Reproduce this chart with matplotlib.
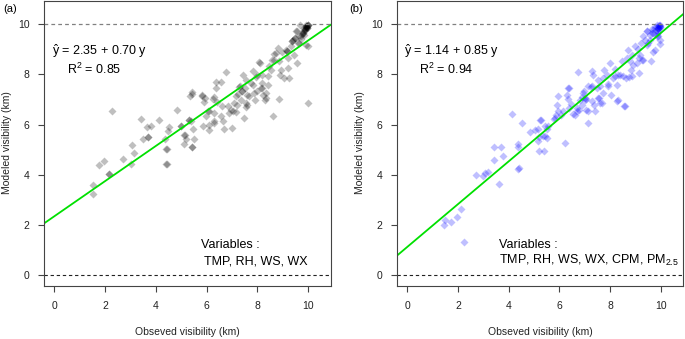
import matplotlib
matplotlib.use("Agg")
import matplotlib.pyplot as plt
import numpy as np

plt.rcParams['font.family'] = ['Liberation Sans', 'DejaVu Sans']
plt.rcParams['mathtext.fontset'] = 'custom'
plt.rcParams['mathtext.rm'] = 'Liberation Sans'
plt.rcParams['mathtext.it'] = 'Liberation Sans:italic'

# Panel (a): observed vs modeled visibility (km)
obs_a = [2.27, 1.75, 1.96, 2.72, 3.06, 3.15, 3.41, 3.64, 3.81, 3.68, 4.13, 4.43, 4.43, 4.50, 4.83,
         5.00, 5.15, 5.19, 5.41, 5.34, 5.43, 5.31, 5.45, 5.51, 5.87, 5.81, 5.93, 5.97, 6.10, 6.10,
         6.10, 6.24, 6.30, 6.30, 6.39, 6.43, 6.56, 6.59, 6.76, 6.83, 6.96, 7.02, 7.09, 7.17, 7.15,
         7.30, 7.35, 7.40, 7.46, 7.52, 7.55, 7.55, 7.56, 7.68, 7.74, 7.81, 7.87, 7.90, 7.94, 7.98,
         8.07, 8.14, 8.20, 8.33, 8.33, 8.40, 8.40, 8.46, 8.53, 8.60, 8.66, 8.73, 8.86, 8.86, 8.93,
         8.99, 9.06, 9.12, 9.19, 9.21, 9.32, 9.39, 9.45, 9.51, 9.58, 9.65, 9.71, 9.78, 9.84, 9.91,
         9.98, 10.0, 9.98, 1.51, 1.51, 2.14, 2.17, 3.48, 3.70, 3.02, 4.41, 4.53, 4.41, 4.36, 4.99,
         5.29, 5.38, 5.12, 5.12, 5.41, 5.42, 5.84, 5.90, 6.28, 6.37, 6.56, 6.04, 6.28, 6.65, 6.69,
         6.89, 7.06, 7.19, 7.22, 7.28, 7.38, 7.42, 7.61, 7.59, 7.81, 8.00, 8.11, 8.17, 8.18, 8.24,
         8.30, 8.57, 8.64, 8.82, 8.90, 9.16, 9.16, 9.25, 9.35, 9.35, 9.48, 9.48, 9.55, 9.61, 9.65,
         9.71, 9.78, 9.84, 9.84, 9.91, 9.91, 9.95, 9.95, 9.98, 9.98, 9.69, 9.88, 9.92, 9.80, 9.90,
         9.95, 9.86, 9.75, 9.93, 9.97]
mod_a = [6.55, 4.38, 4.55, 4.64, 5.18, 4.88, 6.23, 5.90, 5.94, 5.52, 6.17, 5.05, 4.44, 5.74, 6.60,
         5.94, 5.57, 5.41, 5.12, 7.13, 7.29, 6.20, 5.81, 5.44, 5.96, 7.15, 7.05, 6.33, 6.00, 5.77,
         6.53, 7.02, 6.47, 6.13, 7.68, 6.89, 6.33, 6.73, 8.08, 6.73, 6.60, 5.87, 6.86, 6.50, 7.13,
         7.55, 7.00, 7.33, 6.27, 7.46, 7.79, 6.86, 6.69, 7.13, 7.66, 8.12, 7.26, 7.00, 7.88, 7.99,
         8.48, 7.46, 7.66, 7.26, 7.06, 7.59, 7.95, 8.32, 8.19, 6.36, 8.58, 8.85, 7.02, 8.52, 8.19,
         8.91, 7.86, 8.98, 8.65, 8.25, 9.11, 9.38, 8.78, 9.71, 8.45, 9.25, 9.51, 9.64, 9.84, 9.90,
         9.97, 6.86, 9.11, 3.60, 3.23, 4.03, 4.05, 5.41, 5.50, 4.42, 4.42, 5.90, 5.04, 5.41, 5.96,
         6.20, 6.13, 5.60, 5.24, 5.10, 7.23, 7.19, 6.90, 7.09, 7.46, 7.68, 6.56, 6.07, 6.16, 5.81,
         6.47, 6.53, 6.77, 7.23, 7.48, 7.35, 7.96, 6.77, 7.17, 7.59, 7.35, 8.45, 7.99, 7.46, 7.19,
         7.00, 8.58, 8.81, 9.05, 7.99, 8.94, 8.94, 7.86, 9.34, 9.34, 9.44, 9.44, 9.73, 9.25, 9.51,
         9.42, 9.64, 9.77, 9.55, 9.90, 9.18, 9.84, 9.84, 9.97, 9.97, 9.97, 9.80, 9.85, 9.70, 9.92,
         9.90, 9.75, 9.60, 9.95, 9.93]

# Panel (b)
obs_b = [4.12, 3.43, 3.70, 3.40, 4.36, 4.38, 4.52, 4.41, 4.86, 5.04, 5.15, 5.20, 5.44, 5.50, 5.44,
         5.24, 5.21, 5.40, 5.57, 5.80, 5.86, 5.96, 6.07, 6.16, 6.23, 6.33, 6.38, 6.46, 6.62, 6.69,
         6.75, 6.82, 6.91, 6.99, 7.02, 7.04, 7.12, 7.15, 7.25, 7.30, 7.34, 7.38, 7.41, 7.52, 7.54,
         7.61, 7.67, 7.74, 7.87, 7.91, 8.00, 8.13, 8.20, 8.27, 8.31, 8.33, 8.46, 8.53, 8.57, 8.66,
         8.72, 8.75, 8.83, 8.86, 8.92, 8.99, 9.10, 9.15, 9.23, 9.25, 9.32, 9.38, 9.45, 9.51, 9.58,
         9.65, 9.71, 9.78, 9.85, 9.91, 9.98, 9.98, 9.98, 9.91, 9.78, 9.62, 1.45, 1.49, 1.72, 1.95,
         2.12, 2.25, 2.71, 3.00, 3.07, 3.17, 3.62, 4.38, 3.77, 5.17, 5.37, 5.50, 5.27, 5.83, 5.90,
         5.96, 6.29, 6.36, 6.40, 6.55, 6.71, 6.79, 6.88, 6.95, 7.02, 7.05, 7.15, 7.28, 7.28, 7.48,
         7.58, 7.61, 7.74, 7.77, 7.94, 8.03, 8.20, 8.29, 8.40, 8.59, 8.63, 8.79, 8.86, 9.06, 9.16,
         9.19, 9.29, 9.45, 9.48, 9.58, 9.65, 9.71, 9.85, 9.91, 9.98, 9.85, 9.71, 9.92, 9.95, 9.88,
         9.80, 9.96, 9.90, 9.84, 9.93, 9.97]
mod_b = [6.43, 5.10, 5.10, 4.59, 5.24, 5.10, 6.07, 4.29, 5.70, 5.77, 5.83, 5.52, 5.54, 5.81, 5.96,
         6.17, 4.94, 4.97, 5.94, 6.24, 6.40, 6.53, 6.40, 6.56, 5.28, 7.02, 7.46, 6.84, 6.40, 6.67,
         8.08, 7.00, 7.09, 7.35, 7.00, 6.60, 6.07, 7.52, 7.50, 8.12, 7.99, 6.80, 6.53, 7.79, 7.06,
         7.52, 6.86, 7.26, 7.99, 7.62, 8.45, 7.86, 8.21, 7.59, 7.00, 7.99, 8.52, 7.92, 6.76, 8.65,
         8.98, 7.90, 8.19, 8.78, 8.38, 9.11, 9.01, 8.65, 9.25, 8.58, 9.51, 9.38, 9.71, 9.25, 9.58,
         9.80, 9.64, 9.90, 9.97, 9.84, 9.93, 9.38, 9.21, 9.51, 8.98, 8.52, 2.02, 2.19, 2.14, 2.34,
         2.63, 1.34, 3.98, 3.95, 4.09, 4.11, 3.62, 4.22, 4.77, 5.34, 5.54, 5.47, 6.20, 6.27, 6.80,
         7.13, 7.19, 7.46, 6.67, 6.43, 6.56, 6.60, 6.80, 7.26, 7.06, 7.02, 6.53, 7.52, 6.93, 7.46,
         7.06, 6.86, 7.86, 8.19, 7.52, 7.19, 7.92, 6.93, 7.99, 6.73, 7.86, 8.52, 7.92, 8.45, 8.06,
         8.78, 8.58, 9.18, 9.71, 9.38, 9.64, 9.77, 9.90, 9.84, 9.97, 9.51, 8.91, 9.85, 9.95, 9.80,
         9.75, 9.90, 9.70, 9.60, 9.92, 9.88]

fits = [(2.35, 0.70, "0.85", "TMP, RH, WS, WX"),
        (1.14, 0.85, "0.94", "TMP, RH, WS, WX, CPM, PM$_{2.5}$")]
ticks = [0, 2, 4, 6, 8, 10]

fig = plt.figure(figsize=(6.85, 3.39), dpi=100)
W, H = 685, 339
axes_px = [(44, 331), (397.3, 683.4)]
top_px, bot_px = 1, 286
colors = [(0, 0, 0, 0.25), (0, 0, 1, 0.25)]
data = [(obs_a, mod_a), (obs_b, mod_b)]
var_x = [5.78, 3.63]
var_x2 = [5.91, 3.63]
eq_x = [-0.1, -0.12]
r2_x = [0.49, 0.46]
labels = ["(a)", "(b)"]
label_px = [3, 349]

for i in range(2):
    l, r = axes_px[i]
    ax = fig.add_axes([l / W, (H - bot_px) / H, (r - l) / W, (bot_px - top_px) / H])
    x, y = data[i]
    ax.plot(x, y, linestyle='none', marker='D', markersize=3.7,
            markerfacecolor=colors[i], markeredgecolor='none')
    ax.set_xlim(-0.4, 10.9)
    ax.set_ylim(-0.42, 10.92)
    a, b, r2, vars_ = fits[i]
    xx = np.array([-0.4, 10.9])
    ax.plot(xx, a + b * xx, color='#00e000', lw=1.3)
    ax.axhline(10, color='#808080', ls=(0, (3, 2.5)), lw=0.9)
    ax.axhline(0, color='#222222', ls=(0, (3, 2.5)), lw=0.8)
    ax.set_xticks(ticks)
    ax.set_yticks(ticks)
    ax.tick_params(direction='out', length=4.5, width=0.8, color='#444444',
                   labelsize=7.5, pad=6, labelcolor='#222222')
    for s in ax.spines.values():
        s.set_color('#444444')
        s.set_linewidth(0.8)
    ax.text(eq_x[i], 8.78, r"$\hat{\mathrm{y}}$" + " = %.2f + %.2f y" % (a, b),
            fontsize=9, ha='left', va='baseline')
    ax.text(r2_x[i], 8.03, "R$^2$ = " + r2, fontsize=9, ha='left', va='baseline')
    ax.text(var_x[i], 1.08, "Variables :", fontsize=9, ha='left', va='baseline')
    ax.text(var_x2[i], 0.45, vars_, fontsize=9, ha='left', va='baseline')
    fig.text(label_px[i] / W, 1 - 9 / H, labels[i], fontsize=8, ha='left', va='center')
    fig.text((l + r) / 2 / W, 1 - 332 / H, "Obseved visibility (km)", fontsize=7.5,
             ha='center', va='center', color='#222222')
    fig.text((l - 37) / W, 1 - 143 / H, "Modeled visibility (km)", fontsize=7.5,
             ha='center', va='center', rotation=90, color='#222222')

fig.savefig("out.png", dpi=100)
